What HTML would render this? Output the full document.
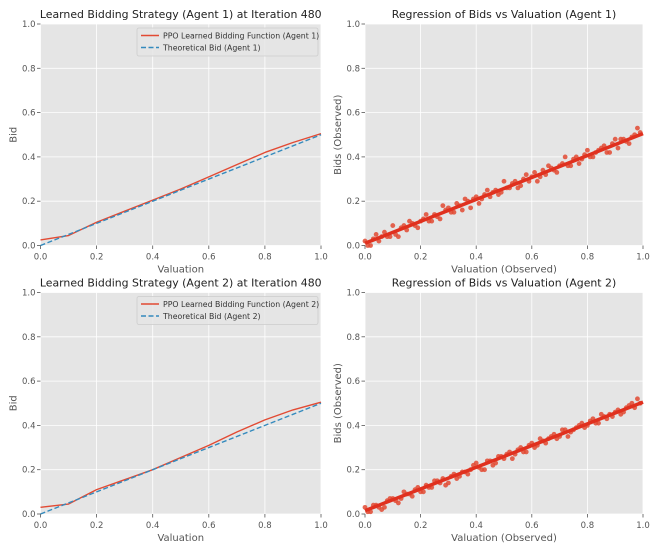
<!DOCTYPE html>
<html><head><meta charset="utf-8"><style>
body{margin:0;background:#fff;}
svg{display:block;font-family:"DejaVu Sans","Liberation Sans",sans-serif;}
</style></head><body>
<svg id="fig" width="654" height="543" viewBox="0 0 654 543"></svg>
<script>
const ticks = [0, 0.2, 0.4, 0.6, 0.8, 1.0];
const tickLabels = ["0.0","0.2","0.4","0.6","0.8","1.0"];
const curveX = [0,0.1,0.2,0.3,0.4,0.5,0.6,0.7,0.8,0.9,1.0];
const ppo1 = [0.025,0.045,0.105,0.155,0.205,0.255,0.31,0.365,0.42,0.465,0.505];
const theo1 = [0,0.05,0.1,0.15,0.2,0.25,0.3,0.35,0.4,0.45,0.5];
const ppo2 = [0.03,0.045,0.11,0.155,0.2,0.255,0.31,0.37,0.425,0.47,0.505];
const theo2 = [0,0.05,0.1,0.15,0.2,0.25,0.3,0.35,0.4,0.45,0.5];
const valsA = [0,0.02,0.04,0.06,0.08,0.1,0.12,0.14,0.16,0.18,0.2,0.22,0.24,0.26,0.28,0.3,0.32,0.34,0.36,0.38,0.4,0.42,0.44,0.46,0.48,0.5,0.52,0.54,0.56,0.58,0.6,0.62,0.64,0.66,0.68,0.7,0.72,0.74,0.76,0.78,0.8,0.82,0.84,0.86,0.88,0.9,0.92,0.94,0.96,0.98];
const valsB = [0.01,0.03,0.05,0.07,0.09,0.11,0.13,0.15,0.17,0.19,0.21,0.23,0.25,0.27,0.29,0.31,0.33,0.35,0.37,0.39,0.41,0.43,0.45,0.47,0.49,0.51,0.53,0.55,0.57,0.59,0.61,0.63,0.65,0.67,0.69,0.71,0.73,0.75,0.77,0.79,0.81,0.83,0.85,0.87,0.89,0.91,0.93,0.95,0.97,0.99];
const bids1A = [0.02,0.00,0.05,0.04,0.04,0.09,0.04,0.09,0.11,0.09,0.11,0.14,0.11,0.13,0.18,0.17,0.15,0.18,0.21,0.17,0.22,0.21,0.25,0.24,0.23,0.29,0.26,0.29,0.27,0.32,0.31,0.29,0.34,0.36,0.34,0.36,0.40,0.36,0.40,0.39,0.43,0.40,0.43,0.45,0.42,0.48,0.48,0.47,0.49,0.53];
const bids1B = [0.00,0.03,0.02,0.06,0.04,0.05,0.08,0.07,0.10,0.08,0.12,0.11,0.14,0.12,0.16,0.15,0.19,0.16,0.20,0.21,0.19,0.23,0.22,0.25,0.24,0.26,0.28,0.26,0.30,0.29,0.33,0.31,0.32,0.35,0.33,0.37,0.36,0.39,0.37,0.41,0.40,0.42,0.44,0.42,0.46,0.44,0.48,0.46,0.50,0.51];
const bids2A = [0.03,0.01,0.04,0.02,0.06,0.07,0.05,0.10,0.09,0.11,0.10,0.13,0.12,0.15,0.16,0.14,0.18,0.17,0.19,0.20,0.23,0.20,0.24,0.22,0.26,0.25,0.28,0.27,0.30,0.28,0.32,0.31,0.33,0.34,0.36,0.35,0.38,0.37,0.39,0.41,0.40,0.43,0.41,0.44,0.45,0.46,0.45,0.48,0.50,0.52];
const bids2B = [0.01,0.04,0.03,0.03,0.07,0.06,0.07,0.09,0.08,0.12,0.10,0.12,0.15,0.14,0.13,0.17,0.16,0.19,0.18,0.22,0.21,0.20,0.24,0.23,0.26,0.27,0.25,0.29,0.28,0.31,0.30,0.34,0.32,0.35,0.34,0.38,0.35,0.38,0.40,0.39,0.42,0.41,0.45,0.43,0.44,0.47,0.46,0.49,0.48,0.50];
const reg1 = [0.01, 0.505];
const reg2 = [0.015, 0.505];

const NS = "http://www.w3.org/2000/svg";
const fig = document.getElementById("fig");
function mk(tag, attrs, parent, text){
  const e = document.createElementNS(NS, tag);
  for (const k in attrs) e.setAttribute(k, attrs[k]);
  if (text !== undefined) e.textContent = text;
  (parent || fig).appendChild(e);
  return e;
}
function panel(name, x0, x1, y0, y1, title, xlab, ylab){
  const g = mk("g", {});
  
  
  const sx = v => x0 + v * (x1 - x0);
  const sy = v => y1 - v * (y1 - y0);
  const bg = mk("rect", {x:x0, y:y0, width:x1-x0, height:y1-y0, fill:"#e5e5e5"}, g);
  
  
  ticks.forEach((t, i) => {
    mk("line", {x1:sx(t), x2:sx(t), y1:y0, y2:y1, stroke:"#fff", "stroke-width":0.8}, g);
    mk("line", {x1:x0, x2:x1, y1:sy(t), y2:sy(t), stroke:"#fff", "stroke-width":0.8}, g);
    mk("line", {x1:sx(t), x2:sx(t), y1:y1, y2:y1+3.5, stroke:"#555", "stroke-width":0.8}, g);
    mk("line", {x1:x0-3.5, x2:x0, y1:sy(t), y2:sy(t), stroke:"#555", "stroke-width":0.8}, g);
    const xt = mk("text", {x:sx(t), y:y1+14, "text-anchor":"middle", "font-size":8.5, fill:"#555"}, g, tickLabels[i]);
    
    
    const yt = mk("text", {x:x0-5, y:sy(t)+3, "text-anchor":"end", "font-size":8.5, fill:"#555"}, g, tickLabels[i]);
    
    
  });
  const tt = mk("text", {x:(x0+x1)/2, y:y0-6, "text-anchor":"middle", "font-size":10.9, fill:"#222"}, g, title);
  
  
  const xl = mk("text", {x:(x0+x1)/2, y:y1+27, "text-anchor":"middle", "font-size":10, fill:"#555"}, g, xlab);
  
  
  const yl = mk("text", {x:0, y:0, "text-anchor":"middle", "font-size":10, fill:"#555", transform:`translate(${x0-24},${(y0+y1)/2}) rotate(-90)`}, g, ylab);
  
  
  return {g, sx, sy};
}
function linePanel(name, y0, y1, title, ppo, theo, agent){
  const p = panel(name, 40.5, 321, y0, y1, title, "Valuation", "Bid");
  const dP = curveX.map((v,i)=>`${i?'L':'M'}${p.sx(v)},${p.sy(ppo[i])}`).join(" ");
  const dT = curveX.map((v,i)=>`${i?'L':'M'}${p.sx(v)},${p.sy(theo[i])}`).join(" ");
  const l1 = mk("path", {d:dP, fill:"none", stroke:"#E24A33", "stroke-width":1.4, "stroke-linejoin":"round"}, p.g);
  
  
  const l2 = mk("path", {d:dT, fill:"none", stroke:"#348ABD", "stroke-width":1.4, "stroke-dasharray":"5,2.5"}, p.g);
  
  
  const lg = mk("g", {}, p.g);
  
  
  mk("rect", {x:137, y:y0+4, width:181, height:28, fill:"#e5e5e5", "fill-opacity":0.8, stroke:"#ccc", "stroke-width":0.8, rx:2}, lg);
  mk("line", {x1:141, x2:159, y1:y0+11.5, y2:y0+11.5, stroke:"#E24A33", "stroke-width":1.4}, lg);
  mk("line", {x1:141, x2:159, y1:y0+23.5, y2:y0+23.5, stroke:"#348ABD", "stroke-width":1.4, "stroke-dasharray":"5,2.5"}, lg);
  const e1 = mk("text", {x:163, y:y0+14.5, "font-size":7.8, fill:"#333"}, lg, `PPO Learned Bidding Function (Agent ${agent})`);
  
  
  const e2 = mk("text", {x:163, y:y0+26.5, "font-size":7.8, fill:"#333"}, lg, `Theoretical Bid (Agent ${agent})`);
  
  
}
function scatterPanel(name, y0, y1, title, bA, bB, reg){
  const p = panel(name, 365, 643, y0, y1, title, "Valuation (Observed)", "Bids (Observed)");
  [[valsA,bA],[valsB,bB]].forEach(([vs, bs]) => {
    vs.forEach((v,i) => {
      const c = mk("circle", {cx:p.sx(v), cy:p.sy(bs[i]), r:2.4, fill:"#E24A33", "fill-opacity":0.85}, p.g);
      
      
    });
  });
  const r = mk("line", {x1:p.sx(0), y1:p.sy(reg[0]), x2:p.sx(1), y2:p.sy(reg[1]), stroke:"#E0301E", "stroke-width":3.5}, p.g);
  
  
}
linePanel("agent1-strategy-chart", 24, 245.5, "Learned Bidding Strategy (Agent 1) at Iteration 480", ppo1, theo1, 1);
scatterPanel("agent1-regression-chart", 24, 245.5, "Regression of Bids vs Valuation (Agent 1)", bids1A, bids1B, reg1);
linePanel("agent2-strategy-chart", 292.5, 514, "Learned Bidding Strategy (Agent 2) at Iteration 480", ppo2, theo2, 2);
scatterPanel("agent2-regression-chart", 292.5, 514, "Regression of Bids vs Valuation (Agent 2)", bids2A, bids2B, reg2);
</script>
</body></html>
